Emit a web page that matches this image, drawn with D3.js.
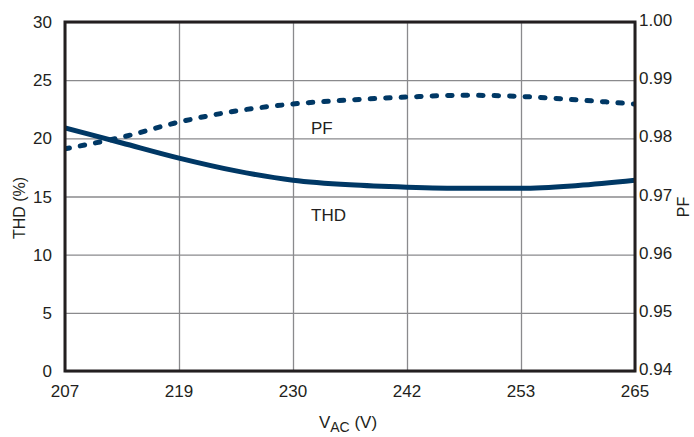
<!DOCTYPE html>
<html>
<head>
<meta charset="utf-8">
<script src="https://cdn.jsdelivr.net/npm/d3@7"></script>
<style>
  body { margin: 0; background: #fff; }
  svg text { font-family: "Liberation Sans Narrow", "Arial Narrow", "Liberation Sans", sans-serif; fill: #231f20; }
</style>
</head>
<body>
<div class="vis-chart"></div>
<script>
// V_AC sample points (evenly spaced, matching grid)
const vac = [207, 212.8, 218.6, 224.4, 230.2, 236, 241.8, 247.6, 253.4, 259.2, 265];
const thd = [20.9, 19.6, 18.3, 17.2, 16.4, 16.0, 15.8, 15.7, 15.7, 15.95, 16.4];
const pf = [0.9782, 0.9802, 0.9828, 0.9847, 0.9859, 0.9866, 0.9871, 0.9874, 0.9872, 0.9866, 0.9859];
const xTicks = [207, 218.6, 230.2, 241.8, 253.4, 265];
const thdTicks = [0, 5, 10, 15, 20, 25, 30];
const pfTicks = [0.94, 0.95, 0.96, 0.97, 0.98, 0.99, 1.00];

const draw = () => {
    const W = 694, H = 437;
    const margin = {top: 22, right: 59, bottom: 66, left: 65};
    const width = W - margin.left - margin.right;
    const height = H - margin.top - margin.bottom;
    const navy = '#003865';

    const root = d3.select('.vis-chart').append('svg')
        .attr('width', W).attr('height', H);
    const svg = root.append('g')
        .attr('transform', 'translate(' + margin.left + ',' + margin.top + ')');

    const x = d3.scaleLinear().domain([207, 265]).range([0, width]);
    const yL = d3.scaleLinear().domain([0, 30]).range([height, 0]);
    const yR = d3.scaleLinear().domain([0.94, 1.00]).range([height, 0]);

    // grid
    svg.append('g')
        .attr('transform', 'translate(0,' + height + ')')
        .call(d3.axisBottom(x).tickValues(xTicks).tickSize(-height).tickFormat(''))
        .call(g => g.select('.domain').remove())
        .call(g => g.selectAll('line').attr('stroke', '#8a8a8d').attr('stroke-width', 1.3));
    svg.append('g')
        .call(d3.axisLeft(yL).tickValues(thdTicks).tickSize(-width).tickFormat(''))
        .call(g => g.select('.domain').remove())
        .call(g => g.selectAll('line').attr('stroke', '#8a8a8d').attr('stroke-width', 1.3));

    // lines
    const lineThd = d3.line()
        .x((d, i) => x(vac[i])).y(d => yL(d))
        .curve(d3.curveMonotoneX);
    const linePf = d3.line()
        .x((d, i) => x(vac[i])).y(d => yR(d))
        .curve(d3.curveMonotoneX);

    root.append('defs').append('clipPath').attr('id', 'clip')
        .append('rect').attr('width', width).attr('height', height);

    svg.append('path').datum(thd)
        .attr('clip-path', 'url(#clip)')
        .attr('fill', 'none').attr('stroke', navy).attr('stroke-width', 5)
        .attr('d', lineThd);
    svg.append('path').datum(pf)
        .attr('clip-path', 'url(#clip)')
        .attr('fill', 'none').attr('stroke', navy).attr('stroke-width', 5)
        .attr('stroke-linecap', 'round').attr('stroke-dasharray', '4.5 11')
        .attr('d', linePf);

    // frame
    svg.append('rect')
        .attr('width', width).attr('height', height)
        .attr('fill', 'none').attr('stroke', '#231f20').attr('stroke-width', 3);

    // tick labels
    svg.append('g').selectAll('text').data(xTicks).enter().append('text')
        .attr('x', d => x(d)).attr('y', height + 26)
        .attr('text-anchor', 'middle').attr('font-size', 17)
        .text(d => d3.format('.0f')(d));
    svg.append('g').selectAll('text').data(thdTicks).enter().append('text')
        .attr('x', -13).attr('y', d => yL(d) + 6)
        .attr('text-anchor', 'end').attr('font-size', 17)
        .text(d => d);
    svg.append('g').selectAll('text').data(pfTicks).enter().append('text')
        .attr('x', width + 4).attr('y', d => yR(d) + 4)
        .attr('text-anchor', 'start').attr('font-size', 17)
        .text(d => d3.format('.2f')(d));

    // axis titles
    root.append('text')
        .attr('transform', 'translate(25,208) rotate(-90)')
        .attr('text-anchor', 'middle').attr('font-size', 16)
        .text('THD (%)');
    root.append('text')
        .attr('transform', 'translate(689,207) rotate(-90)')
        .attr('text-anchor', 'middle').attr('font-size', 16)
        .text('PF');
    const xt = root.append('text')
        .attr('x', 348).attr('y', 428)
        .attr('text-anchor', 'middle').attr('font-size', 17);
    xt.append('tspan').text('V');
    xt.append('tspan').attr('font-size', 14).attr('dy', 4).text('AC');
    xt.append('tspan').attr('dy', -4).text(' (V)');

    // series labels
    svg.append('text').attr('x', 246).attr('y', 112).attr('font-size', 17).text('PF');
    svg.append('text').attr('x', 246).attr('y', 199).attr('font-size', 17).text('THD');
};

draw();
</script>
</body>
</html>
